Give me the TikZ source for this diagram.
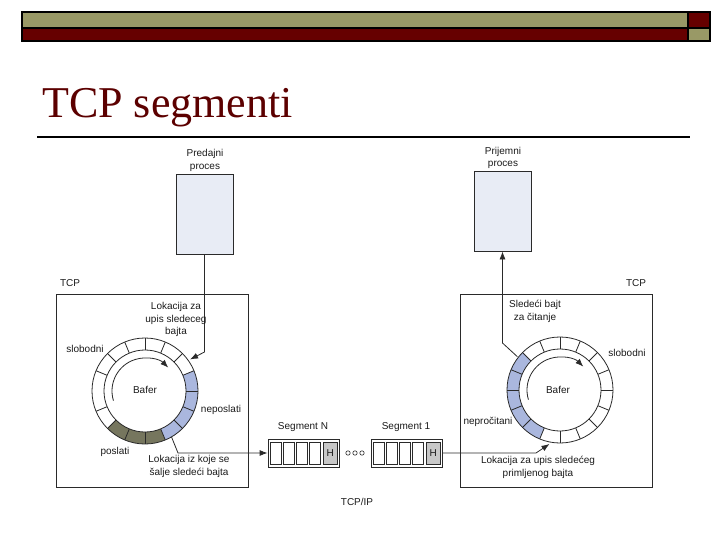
\documentclass[tikz,border=0pt]{standalone}
\usepackage{fontspec}
\setmainfont{Liberation Serif}
\newfontfamily\arial{Liberation Sans}
\usetikzlibrary{arrows.meta,calc}
\definecolor{olivebar}{HTML}{999966}
\definecolor{redbar}{HTML}{660000}
\definecolor{titlec}{HTML}{5C0000}
\definecolor{linec}{HTML}{2A2A2A}
\definecolor{procfill}{HTML}{E8ECF5}
\definecolor{blueseg}{HTML}{AAB7DE}
\definecolor{darkseg}{HTML}{76765E}
\definecolor{hgray}{HTML}{C8C8C8}
\definecolor{txt}{HTML}{1A1A1A}
\tikzset{
  lbl/.style={font=\arial\fontsize{10}{12.5}\selectfont, text=txt, inner sep=0pt, align=center},
  ln/.style={draw=linec, line width=0.8pt},
  arr/.style={ln, -{Latex[length=8pt,width=6pt]}},
  proc/.style={draw=linec, fill=procfill, minimum width=57pt, minimum height=80pt, inner sep=0pt, line width=0.8pt},
  tcpbox/.style={draw=linec, line width=0.8pt, minimum width=192pt, minimum height=193pt, inner sep=0pt},
  segbox/.style={draw=linec, line width=0.8pt, minimum width=71pt, minimum height=28pt, inner sep=0pt},
}
\begin{document}
\begin{tikzpicture}[x=1pt,y=1pt]
\useasboundingbox (0,0) rectangle (720,-540);
% top bar
\fill[olivebar] (22,-12) rectangle (688,-28);
\fill[redbar] (22,-28) rectangle (688,-41);
\fill[redbar] (688,-12) rectangle (710,-28);
\fill[olivebar] (688,-28) rectangle (710,-41);
\draw[line width=1.5pt] (22,-12) rectangle (710,-41);
\draw[line width=1.5pt] (22,-28) -- (710,-28) (688,-12) -- (688,-41);
% title
\node[anchor=base west, font=\fontsize{44}{50}\selectfont, text=titlec, inner sep=0pt] (title) at (42,-118) {TCP segmenti};
\draw[line width=1.5pt] (37,-137) -- (690,-137);

% TCP boxes
\node[tcpbox] (tcpL) at (152,-390.5) {};
\node[tcpbox] (tcpR) at (556,-390.5) {};
\node[lbl] (tcpLl) at (70,-283) {TCP};
\node[lbl] (tcpRl) at (636,-283) {TCP};

% process boxes
\node[proc] (procL) at (204.5,-214) {};
\node[proc] (procR) at (502.5,-211) {};
\node[lbl] (procLl) at (205,-160.5) {Predajni\\proces};
\node[lbl] (procRl) at (503,-158) {Prijemni\\proces};

% left ring
\coordinate (cL) at (145,-391);
\fill[darkseg] ([shift={(225:53)}]cL) arc[start angle=225,end angle=292.5,radius=53pt] -- ([shift={(292.5:41)}]cL) arc[start angle=292.5,end angle=225,radius=41pt] -- cycle;
\fill[blueseg] ([shift={(292.5:53)}]cL) arc[start angle=292.5,end angle=382.5,radius=53pt] -- ([shift={(22.5:41)}]cL) arc[start angle=382.5,end angle=292.5,radius=41pt] -- cycle;
\draw[ln] (cL) circle[radius=53pt] (cL) circle[radius=41pt];
\foreach \a in {0,22.5,45,67.5,90,112.5,135,157.5,202.5,225,247.5,270,292.5,315,337.5}
  \draw[ln] ([shift={(\a:41)}]cL) -- ([shift={(\a:53)}]cL);
\draw[arr] ([shift={(197:33)}]cL) arc[start angle=197,end angle=45,radius=33pt];

% right ring
\coordinate (cR) at (560,-390);
\fill[blueseg] ([shift={(135:53)}]cR) arc[start angle=135,end angle=247.5,radius=53pt] -- ([shift={(247.5:41)}]cR) arc[start angle=247.5,end angle=135,radius=41pt] -- cycle;
\draw[ln] (cR) circle[radius=53pt] (cR) circle[radius=41pt];
\foreach \a in {0,22.5,...,337.5}
  \draw[ln] ([shift={(\a:41)}]cR) -- ([shift={(\a:53)}]cR);
\draw[arr] ([shift={(197:33)}]cR) arc[start angle=197,end angle=45,radius=33pt];

% segments
\node[segbox] (segN) at (303.5,-453) {};
\node[segbox] (seg1) at (406.5,-453) {};
\foreach \s in {segN,seg1} {
  \foreach \i in {0,...,3}
    \draw[ln] ($(\s.west)+(2.5+13*\i,-11)$) rectangle ++(11,22);
  \draw[ln,fill=hgray] ($(\s.east)+(-16.5,-11)$) rectangle ++(14.5,22);
  \node[lbl] (h-\s) at ($(\s.east)+(-9.25,0)$) {H};
}
\foreach \x in {348,355,362}
  \draw[draw=linec, line width=0.6pt] (\x,-453) circle[radius=2.2pt];
\node[lbl] (segNl) at (303,-427) {Segment N};
\node[lbl] (seg1l) at (406,-427) {Segment 1};
\node[lbl] (tcpip) at (357,-502) {TCP/IP};

% connectors
\coordinate (bendL) at (204.5,-352);
\coordinate (tipL) at ([shift={(35:55)}]cL);
\draw[arr] (procL.south) -- (bendL) -- (tipL);
\coordinate (sL) at ([shift={(300:53)}]cL);
\coordinate (sL2) at (178,-453);
\draw[arr] (sL) -- (sL2) -- (segN.west);
\coordinate (rR) at ([shift={(259:55)}]cR);
\coordinate (rR2) at (536,-453);
\draw[arr] (seg1.east) -- (rR2) -- (rR);
\coordinate (kR) at ([shift={(142:54)}]cR);
\coordinate (kR2) at (502.5,-343);
\draw[arr] (kR) -- (kR2) -- (procR.south);

% left labels
\node[lbl] (lokL) at (176,-319.5) {Lokacija za\\upis sledeceg\\bajta};
\node[lbl] (slobL) at (85,-349) {slobodni};
\node[lbl] (bafL) at (145,-390) {Bafer};
\node[lbl] (neposl) at (221,-410) {neposlati};
\node[lbl] (posl) at (115,-452) {poslati};
\node[lbl] (salje) at (189,-466.5) {Lokacija iz koje se\\šalje sledeći bajta};

% right labels
\node[lbl] (sled) at (535,-311.5) {Sledeći bajt\\za čitanje};
\node[lbl] (slobR) at (627,-353) {slobodni};
\node[lbl] (bafR) at (558,-390) {Bafer};
\node[lbl] (neproc) at (488,-422) {nepročitani};
\node[lbl] (upisR) at (538,-467.5) {Lokacija za upis sledećeg\\primljenog bajta};
\end{tikzpicture}
\end{document}
